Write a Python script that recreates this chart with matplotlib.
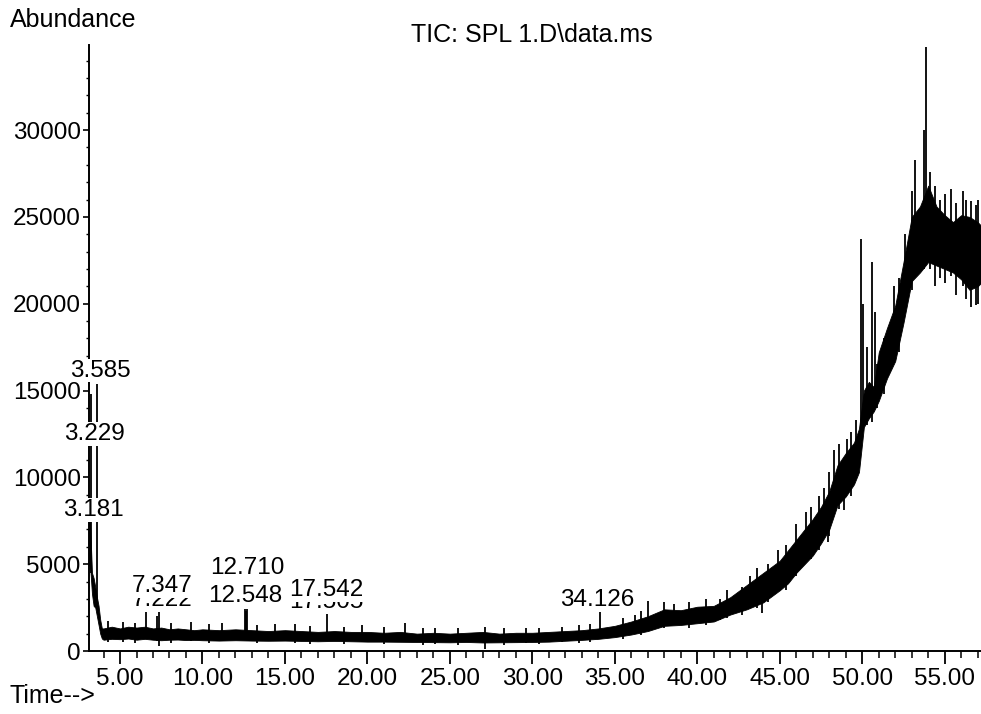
import matplotlib
matplotlib.use('Agg')
import matplotlib.pyplot as plt
from matplotlib.ticker import MultipleLocator, FormatStrFormatter

plt.rcParams['font.family'] = ['Liberation Sans', 'DejaVu Sans']

# TIC trace: upper / lower edge of the noisy band
time_min = [3.12, 3.20, 3.30, 3.40, 3.50, 3.60, 3.70, 3.80, 3.90, 4.0,
            4.5, 5.0, 5.5, 6.0, 6.5, 7.0, 7.5, 8.0, 8.5, 9.0,
            9.5, 10.0, 11.0, 12.0, 13.0, 14.0, 15.0, 16.0, 17.0, 18.0,
            19.0, 20.0, 21.0, 22.0, 23.0, 24.0, 25.0, 26.0, 27.0, 28.0,
            29.0, 30.0, 31.0, 32.0, 33.0, 34.0, 35.0, 36.0, 37.0, 38.0,
            39.0, 40.0, 41.0, 42.0, 43.0, 44.0, 45.0, 45.5, 46.0, 46.5,
            47.0, 47.5, 48.0, 48.5, 49.0, 49.5, 49.8, 50.1, 50.4, 50.7,
            51.0, 51.5, 52.0, 52.5, 53.0, 53.5, 54.0, 54.5, 55.0, 55.5,
            56.0, 56.5, 57.0, 57.2]
band_hi = [7700, 7000, 4500, 4200, 3700, 3100, 2600, 1800, 1300, 1300,
           1400, 1300, 1400, 1350, 1400, 1300, 1350, 1250, 1300, 1250,
           1200, 1250, 1200, 1250, 1200, 1150, 1200, 1150, 1100, 1150,
           1100, 1100, 1050, 1100, 1000, 1050, 1000, 1050, 1100, 1000,
           1050, 1050, 1100, 1150, 1200, 1300, 1450, 1700, 2000, 2400,
           2350, 2550, 2600, 3100, 3800, 4500, 5200, 5800, 6400, 7000,
           7600, 8300, 9200, 10700, 11400, 12000, 12800, 15000, 15500, 15200,
           17200, 18600, 19900, 22400, 25000, 25600, 26800, 25600, 25100, 24700,
           25100, 25000, 24700, 24500]
band_lo = [5000, 4700, 3300, 2600, 2500, 2000, 1500, 1000, 720, 650,
           700, 680, 720, 650, 700, 650, 620, 650, 660, 630,
           640, 620, 600, 620, 600, 590, 600, 580, 560, 580,
           560, 540, 540, 530, 520, 510, 500, 520, 490, 500,
           510, 520, 540, 590, 640, 700, 800, 950, 1150, 1450,
           1500, 1600, 1700, 2100, 2400, 2800, 3500, 3900, 4500, 5000,
           5500, 6200, 7000, 8400, 8900, 9600, 10300, 12900, 13400, 13800,
           14400, 15700, 16700, 18900, 21300, 21800, 22400, 22200, 22000, 21800,
           21400, 20800, 21000, 21200]

# single spikes sticking out of the band (time, top, foot)
spike_time = [3.181, 3.229, 3.585, 6.6, 7.222, 7.347, 12.548, 12.62, 12.710,
              9.3, 11.2, 14.4, 17.542, 19.7, 22.3, 24.1, 27.1, 29.6,
              31.8, 34.126, 36.2, 37.0, 38.6, 41.4, 43.2, 44.9,
              46.6, 47.7, 48.3, 49.1, 49.6, 49.95, 50.05, 50.6, 50.75,
              51.9, 52.6, 53.2, 53.75, 53.85, 54.1, 54.7, 55.4, 56.1,
              56.6, 57.0,
              4.3, 5.2, 5.9, 8.1, 10.4, 13.3, 15.6, 16.5, 18.6, 21.0,
              23.4, 25.5, 28.3, 30.4, 32.8, 33.5, 35.5, 36.6, 38.0, 39.5,
              40.5, 41.8, 42.7, 43.6, 43.9, 44.3, 45.4, 46.0, 46.9, 47.4,
              47.9, 48.0, 48.6, 48.9, 49.3, 50.3, 50.9, 51.3, 52.2, 53.0,
              54.4, 55.0, 55.7, 56.3, 56.9]
spike_top = [7700, 14800, 15400, 2350, 2000, 2350, 2400, 2300, 2400,
             1650, 1600, 1550, 2200, 1500, 1600, 1350, 1400, 1300,
             1400, 2250, 2100, 2900, 2700, 3000, 4300, 5800,
             8000, 9400, 11600, 12200, 13300, 23750, 20000, 22400, 19500,
             21000, 24000, 28300, 30000, 34800, 27600, 26000, 26600, 26500,
             25900, 26000,
             1700, 1650, 1600, 1600, 1550, 1500, 1550, 1450, 1400, 1400,
             1300, 1300, 1350, 1300, 1500, 1550, 1900, 2300, 2800, 2800,
             3000, 3500, 3700, 4800, 3600, 5000, 6100, 7300, 8300, 8900,
             8800, 10300, 11900, 10500, 12600, 17500, 16500, 18000, 21500, 26500,
             26800, 26300, 25800, 26000, 25700]
spike_foot = [5000, 4500, 2500, 800, 600, 300, 800, 800, 800,
              600, 600, 550, 700, 500, 500, 400, 100, 450,
              500, 800, 1000, 1200, 1500, 1800, 2600, 4000,
              5500, 7000, 8800, 9500, 10000, 12700, 13000, 13200, 14000,
              17000, 20000, 22000, 22000, 24000, 22000, 21500, 21600, 21000,
              19800, 20000,
              500, 500, 450, 450, 450, 450, 450, 400, 400, 400,
              350, 350, 350, 380, 450, 500, 700, 900, 1300, 1300,
              1500, 1900, 2100, 2500, 2200, 2800, 3500, 4300, 5300, 5800,
              6300, 6600, 8200, 8100, 8900, 13000, 14000, 14800, 17200, 20800,
              21000, 21200, 20500, 20300, 19900]

# integrated peak labels
peak_labels = ['3.181', '3.229', '3.585', '7.222', '7.347',
               '12.548', '12.710', '17.505', '17.542', '34.126']
label_x = [3.36, 3.42, 3.79, 7.55, 7.55, 12.58, 12.70, 17.48, 17.48, 33.9]
label_y = [8130, 12510, 16150, 2940, 3750, 3170, 4790, 2830, 3520, 2940]

fig = plt.figure(figsize=(9.81, 7.14), dpi=100)
ax = fig.add_axes([89 / 981, 63 / 714, 892 / 981, 606 / 714])

ax.fill_between(time_min, band_lo, band_hi, color='black', lw=0.6, zorder=2)
ax.vlines(spike_time, spike_foot, spike_top, color='black', lw=1.3, zorder=2)

for txt, lx, ly in zip(peak_labels, label_x, label_y):
    ax.text(lx, ly, txt, fontsize=17.5, ha='center', va='center', zorder=5,
            clip_on=False,
            bbox=dict(facecolor='white', edgecolor='none', pad=0.5))

ax.set_xlim(3.12, 57.2)
ax.set_ylim(0, 34900)

for side in ['top', 'right']:
    ax.spines[side].set_visible(False)
for side in ['left', 'bottom']:
    ax.spines[side].set_linewidth(1.4)

ax.xaxis.set_major_locator(MultipleLocator(5))
ax.xaxis.set_minor_locator(MultipleLocator(1))
ax.xaxis.set_major_formatter(FormatStrFormatter('%.2f'))
ax.yaxis.set_major_locator(MultipleLocator(5000))
ax.yaxis.set_minor_locator(MultipleLocator(1000))
ax.tick_params(axis='x', which='major', length=9, width=1.3, labelsize=17.5, pad=3)
ax.tick_params(axis='x', which='minor', length=5, width=1.1)
ax.tick_params(axis='y', which='major', length=4, width=1.2, labelsize=17.5, pad=2)
ax.tick_params(axis='y', which='minor', length=2.5, width=1.0)

fig.text(10 / 981, 1 - 20 / 714, 'Abundance', fontsize=18, ha='left', va='center')
fig.text(532 / 981, 1 - 35 / 714, 'TIC: SPL 1.D\\data.ms', fontsize=18,
         ha='center', va='center')
fig.text(10 / 981, 1 - 696 / 714, 'Time-->', fontsize=18, ha='left', va='center')

fig.savefig('out.png', dpi=100)
